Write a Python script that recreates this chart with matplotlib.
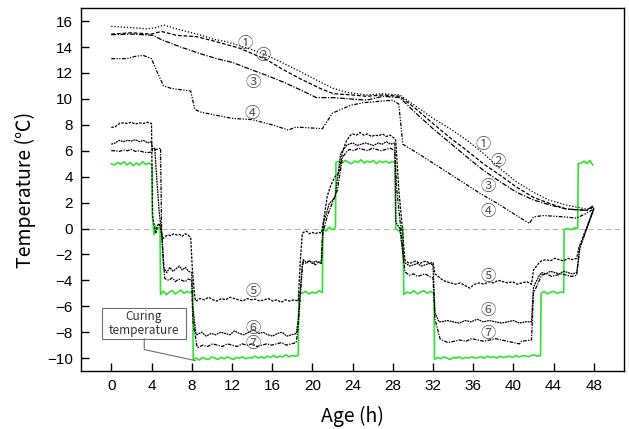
import numpy as np
import matplotlib
matplotlib.use("Agg")
import matplotlib.pyplot as plt
from matplotlib.patches import Rectangle

# ----------------------------
# Data
# segments: (t_start, t_end, [values evenly spread over the segment])
# ----------------------------

curing_segments = [
    (0.0, 4.05, [5.0, 4.9, 5.1, 4.95, 5.15, 4.9, 5.1, 4.85, 5.05, 4.9, 5.15, 4.95, 5.05, 4.9]),
    (4.1, 4.85, [0.9, -0.5, 0.2, -0.1, 0.1, 0.0]),
    (4.9, 8.1, [-5.1, -4.85, -5.1, -4.9, -4.8, -5.05, -4.9, -4.75, -5.0, -4.85, -4.95, -4.8]),
    (8.15, 18.6, [-10.1, -10.0, -10.15, -9.95, -10.05, -10.1, -9.9, -10.0, -10.1, -9.95, -10.05,
                  -9.9, -10.0, -10.1, -9.95, -10.0, -9.9, -10.05, -9.95, -10.0, -9.85, -10.0,
                  -9.9, -10.0, -9.85, -9.95, -9.8, -9.95, -9.85, -9.9, -9.75, -9.9, -9.8, -9.85, -9.8]),
    (18.65, 21.0, [-4.9, -5.0, -4.85, -5.05, -4.9, -5.0, -4.8, -4.95]),
    (21.05, 22.3, [0.0, -0.2, 0.1, -0.1, 0.1]),
    (22.35, 28.25, [5.1, 5.2, 5.05, 5.25, 5.1, 5.0, 5.2, 5.1, 5.3, 5.05, 5.2, 5.1, 5.25, 5.0,
                    5.2, 5.1, 5.2, 5.05, 5.15, 5.1]),
    (28.3, 29.0, [0.0, -0.2, 0.1]),
    (29.1, 32.1, [-5.1, -4.9, -5.0, -4.8, -5.05, -4.9, -4.8, -5.0, -4.85, -5.0]),
    (32.15, 42.7, [-10.1, -9.95, -10.05, -9.9, -10.0, -10.1, -9.95, -10.0, -9.9, -10.05, -9.95,
                   -10.0, -9.9, -10.0, -9.95, -9.9, -10.0, -9.85, -9.95, -9.9, -10.0, -9.85,
                   -9.95, -9.9, -9.85, -9.95, -9.8, -9.9, -9.85, -9.8, -9.9, -9.8, -9.75, -9.85, -9.8]),
    (42.75, 45.0, [-5.0, -4.85, -5.05, -4.9, -4.85, -5.0, -4.9, -4.95]),
    (45.05, 46.4, [-0.1, 0.0, -0.1, 0.05, 0.0]),
    (46.45, 47.9, [5.0, 5.05, 5.2, 5.0, 5.25, 4.9]),
]

s5_segments = [
    (0.0, 4.0, [7.8, 7.85, 8.1, 8.15, 8.1, 8.2, 8.05, 8.15, 8.1, 8.2, 8.1]),
    (4.1, 4.9, [1.0, 0.3, -0.4, 0.2, 0.4, 0.0]),
    (5.1, 7.9, [-0.8, -0.6, -0.5, -0.55, -0.4, -0.5, -0.45, -0.6, -0.4, -0.5, -0.7]),
    (8.05, 8.3, [-3.0, -5.3]),
    (8.4, 18.6, [-5.6, -5.4, -5.5, -5.3, -5.5, -5.6, -5.4, -5.5, -5.3, -5.4, -5.5, -5.6, -5.4,
                 -5.5, -5.45, -5.6, -5.5, -5.4, -5.6, -5.5, -5.7, -5.5, -5.6, -5.5, -5.6]),
    (18.8, 19.0, [-2.5, -0.4]),
    (19.1, 20.9, [-0.3, -0.2, -0.4, -0.3, -0.4, -0.3, -0.35]),
    (21.1, 23.8, [0.5, 2.5, 3.4, 4.0, 4.3, 6.0, 6.8, 7.2]),
    (24.0, 28.1, [7.3, 7.2, 7.4, 7.2, 7.3, 7.1, 7.2, 7.15, 7.3, 7.1, 7.2, 7.0]),
    (28.3, 29.2, [6.8, 3.0, 0.5, -2.4]),
    (29.3, 32.0, [-2.5, -2.7, -2.6, -2.5, -2.7, -2.6, -2.5, -2.7, -2.6]),
    (32.2, 33.0, [-3.5, -4.0]),
    (33.3, 41.8, [-4.1, -4.2, -4.3, -4.2, -4.4, -4.6, -4.3, -4.2, -4.3, -4.1, -4.2, -4.0, -4.1,
                  -4.2, -4.1, -4.3, -4.2, -4.1, -4.3]),
    (42.0, 42.6, [-3.2, -2.6]),
    (42.8, 46.3, [-2.5, -2.4, -2.5, -2.3, -2.4, -2.5, -2.3, -2.4, -2.3]),
    (46.5, 48.0, [-1.5, 0.0, 1.5]),
]

s6_segments = [
    (0.0, 4.0, [6.5, 6.6, 6.8, 6.7, 6.8, 6.75, 6.85, 6.7, 6.8, 6.6, 6.7]),
    (4.1, 5.0, [6.1, 6.2, 3.5, 1.2, -0.3]),
    (5.2, 8.0, [-3.0, -3.4, -3.0, -3.3, -3.1, -2.9, -3.2, -3.0, -3.3, -3.4]),
    (8.1, 8.4, [-6.0, -8.0]),
    (8.5, 18.4, [-8.2, -8.0, -8.3, -8.1, -8.2, -8.0, -8.1, -8.2, -7.9, -8.1, -8.2, -8.0, -7.8,
                 -8.1, -8.0, -8.2, -8.3, -8.1, -8.0, -8.3, -8.2, -8.1]),
    (18.6, 19.0, [-7.0, -2.8]),
    (19.1, 20.9, [-2.4, -2.6, -2.5, -2.7, -2.5, -2.6, -2.5]),
    (21.1, 23.4, [0.4, 1.9, 2.4, 5.8, 6.4]),
    (23.6, 28.2, [6.5, 6.6, 6.4, 6.5, 6.6, 6.5, 6.4, 6.6, 6.5, 6.7, 6.5, 6.6]),
    (28.3, 29.1, [0.5, 0.0, -2.6]),
    (29.3, 32.0, [-2.7, -2.9, -2.8, -2.7, -2.9, -2.8, -2.7, -2.8]),
    (32.2, 32.6, [-6.5, -7.2]),
    (32.8, 41.8, [-7.2, -7.1, -7.2, -7.3, -7.1, -7.2, -7.0, -7.2, -7.1, -7.2, -7.3, -7.2, -7.1,
                  -7.3, -7.2, -7.2]),
    (42.0, 42.6, [-4.5, -3.6]),
    (42.8, 46.3, [-3.4, -3.5, -3.3, -3.4, -3.5, -3.3, -3.4, -3.5, -3.4]),
    (46.6, 48.0, [-1.5, 0.0, 1.5]),
]

s7_segments = [
    (0.0, 4.0, [6.0, 6.0, 5.95, 6.05, 6.0, 6.1, 5.95, 6.0, 5.9, 5.85, 5.9]),
    (4.1, 4.9, [6.0, 6.1, 6.2]),
    (5.0, 5.3, [0.0, -3.8]),
    (5.4, 8.0, [-3.9, -4.0, -3.8, -4.1, -3.9, -4.0, -4.1, -3.9, -4.0]),
    (8.1, 8.5, [-7.0, -9.0]),
    (8.6, 18.4, [-9.2, -9.0, -9.1, -8.9, -9.0, -9.1, -8.9, -9.0, -9.1, -8.9, -9.0, -8.9, -9.1,
                 -9.0, -8.9, -9.0, -8.9, -8.8, -9.0, -8.9, -8.8]),
    (18.6, 19.0, [-7.5, -3.0]),
    (19.1, 20.9, [-2.6, -2.7, -2.5, -2.6, -2.8, -2.6, -2.7]),
    (21.0, 23.5, [-0.5, 1.0, 2.0, 3.0, 5.5, 6.0]),
    (23.7, 28.2, [6.1, 6.0, 6.2, 6.1, 6.0, 6.2, 6.1, 6.0, 6.1, 6.2, 6.0]),
    (28.4, 29.2, [3.0, 0.0, -3.3]),
    (29.3, 32.0, [-3.4, -3.6, -3.5, -3.7, -3.6, -3.5, -3.7, -3.8]),
    (32.2, 32.7, [-7.0, -8.5]),
    (32.9, 40.6, [-8.6, -8.8, -8.7, -8.6, -8.7, -8.5, -8.6, -8.7, -8.6, -8.5, -8.6, -8.7, -8.8, -8.9]),
    (40.8, 41.8, [-8.7, -8.6]),
    (42.0, 42.7, [-5.0, -3.8]),
    (42.8, 46.3, [-3.6, -3.5, -3.7, -3.6, -3.5, -3.6, -3.7, -3.6]),
    (46.6, 48.0, [-1.5, 0.0, 1.6]),
]

s1_t = [0, 2, 3.5, 4.5, 5.2, 6.5, 7.5, 9, 10.2, 11.5, 12.8, 14, 15.5, 17, 18.8, 20.8, 22.1, 23.5,
        25.4, 27, 28.7, 30, 32, 33.7, 35.4, 37, 38.7, 40.3, 42, 43.5, 45.3, 47.3, 48]
s1_y = [15.6, 15.5, 15.4, 15.5, 15.7, 15.4, 15.2, 14.9, 14.6, 14.4, 14.1, 13.8, 13.35, 12.8, 12.1,
        11.3, 10.8, 10.5, 10.3, 10.4, 10.3, 9.6, 8.5, 7.7, 6.8, 5.8, 4.6, 3.6, 2.8, 2.2, 1.8, 1.5, 1.6]

s2_t = [0, 2, 4, 5, 6.5, 8.5, 10.5, 12.8, 14, 15.5, 17, 18.8, 20.8, 22.1, 24, 25.4, 27, 28.7,
        30.2, 32, 33.7, 35.4, 37, 38.7, 40.3, 42, 43.7, 45.3, 47.3, 48]
s2_y = [15.0, 15.1, 15.0, 15.2, 14.9, 14.8, 14.4, 13.9, 13.5, 13.0, 12.3, 11.55, 10.8, 10.4, 10.3,
        10.2, 10.3, 10.2, 9.3, 8.1, 7.0, 6.0, 5.0, 4.1, 3.2, 2.4, 1.9, 1.5, 1.4, 1.7]

s3_t = [0, 2, 4.2, 4.9, 6.9, 8.8, 10.5, 12.1, 14.1, 15.5, 17.1, 18.8, 20.4, 22, 23.7, 25.4, 27,
        28.7, 30.3, 32, 33.7, 35.4, 37, 38.7, 40.3, 42, 43.7, 45.3, 47.3, 48]
s3_y = [14.95, 15.0, 14.9, 14.6, 14.0, 13.5, 13.1, 12.8, 12.2, 11.8, 11.3, 10.7, 10.1, 10.1, 10.0,
        9.9, 10.2, 10.1, 8.9, 7.7, 6.6, 5.5, 4.5, 3.6, 2.8, 2.2, 1.8, 1.5, 1.4, 1.8]

s4_t = [0, 1.5, 2.5, 3.2, 4.0, 4.6, 5.2, 6.0, 7.0, 7.9, 8.3, 8.8, 10, 12, 14, 16, 17.6, 18.3, 19,
        21.0, 22, 23.8, 25, 28, 28.6, 29.0, 30.5, 32.5, 34.5, 36.7, 38.7, 40.3, 41.6, 42, 43, 45,
        46.3, 47.3, 48]
s4_y = [13.1, 13.1, 13.3, 13.35, 13.1, 12.0, 11.0, 10.8, 10.7, 10.6, 9.2, 9.0, 8.8, 8.5, 8.4, 8.0,
        7.6, 7.8, 7.8, 7.7, 8.9, 9.5, 9.7, 9.9, 9.6, 6.5, 5.8, 4.8, 3.8, 2.7, 1.8, 1.0, 0.4, 0.9,
        1.0, 0.9, 0.8, 1.2, 1.5]

label_text = ["①", "②", "③", "④", "①", "②", "③", "④", "⑤", "⑥", "⑦", "⑤", "⑥", "⑦"]
label_t = [13.3, 15.1, 14.15, 14.0, 36.95, 38.5, 37.5, 37.5, 14.1, 14.1, 14.1, 37.5, 37.5, 37.5]
label_y = [14.3, 13.35, 11.3, 8.85, 6.5, 5.17, 3.24, 1.34, -4.84, -7.69, -8.9, -3.7, -6.33, -8.08]

x_ticks = list(range(0, 49, 4))
y_ticks = list(range(-10, 17, 2))


def build(segments):
    t, y = [], []
    for t0, t1, vals in segments:
        t.extend(np.linspace(t0, t1, len(vals)))
        y.extend(vals)
    return np.array(t), np.array(y)


# ----------------------------
# Plot
# ----------------------------

fig = plt.figure(figsize=(6.29, 4.29), dpi=100)
ax = fig.add_axes([0.129, 0.135, 0.863, 0.846])

ax.axhline(0, color="#b5b5b5", lw=0.8, dashes=(5, 3), zorder=1)

ax.plot(s1_t, s1_y, color="k", lw=0.9, dashes=(1, 1.5), zorder=3)
ax.plot(s2_t, s2_y, color="k", lw=0.9, dashes=(3, 1.5), zorder=3)
ax.plot(s3_t, s3_y, color="k", lw=0.9, dashes=(4, 1.2, 1, 1.2), zorder=3)
ax.plot(s4_t, s4_y, color="k", lw=0.9, dashes=(3, 1.2, 1, 1.2, 1, 1.2), zorder=3)

t5, y5 = build(s5_segments)
t6, y6 = build(s6_segments)
t7, y7 = build(s7_segments)
ax.plot(t5, y5, color="k", lw=0.9, dashes=(2, 1), zorder=3)
ax.plot(t6, y6, color="k", lw=0.9, dashes=(1.5, 0.6), zorder=3)
ax.plot(t7, y7, color="k", lw=0.9, dashes=(3, 1, 1, 1), zorder=3)

tg, yg = build(curing_segments)
ax.plot(tg, yg, color="#2ee62e", lw=1.2, zorder=2)

for txt, tx, ty in zip(label_text, label_t, label_y):
    ax.text(tx, ty, txt, ha="center", va="center", fontsize=11, color="#555555",
            family=["Noto Sans CJK JP", "DejaVu Sans"], zorder=5)

# callout for curing temperature
ax.add_patch(Rectangle((-0.92, -8.51), 8.34, 2.36, facecolor="white", edgecolor="#707070",
                       lw=0.8, zorder=6, clip_on=False))
ax.text(3.25, -7.33, "Curing\ntemperature", ha="center", va="center", fontsize=8.5,
        color="#333333", family=["Noto Sans CJK KR", "DejaVu Sans"], linespacing=1.1, zorder=7)
ax.plot([3.28, 3.28, 8.35], [-8.51, -9.34, -10.19], color="#707070", lw=0.8, zorder=6)

ax.set_xlim(-3, 51)
ax.set_ylim(-11, 17)
ax.set_xticks(x_ticks)
ax.set_yticks(y_ticks)
ax.tick_params(direction="in", length=6, width=1, pad=6, labelsize=11)
for lab in ax.get_xticklabels() + ax.get_yticklabels():
    lab.set_family("Liberation Sans")
for sp in ax.spines.values():
    sp.set_linewidth(1.0)

ax.set_xlabel("Age (h)", fontsize=14, family=["Noto Sans CJK KR", "DejaVu Sans"], labelpad=9)
ax.set_ylabel("Temperature (℃)", fontsize=14, family=["Noto Sans CJK KR", "DejaVu Sans"], labelpad=8)

plt.savefig("out.png", dpi=100)
